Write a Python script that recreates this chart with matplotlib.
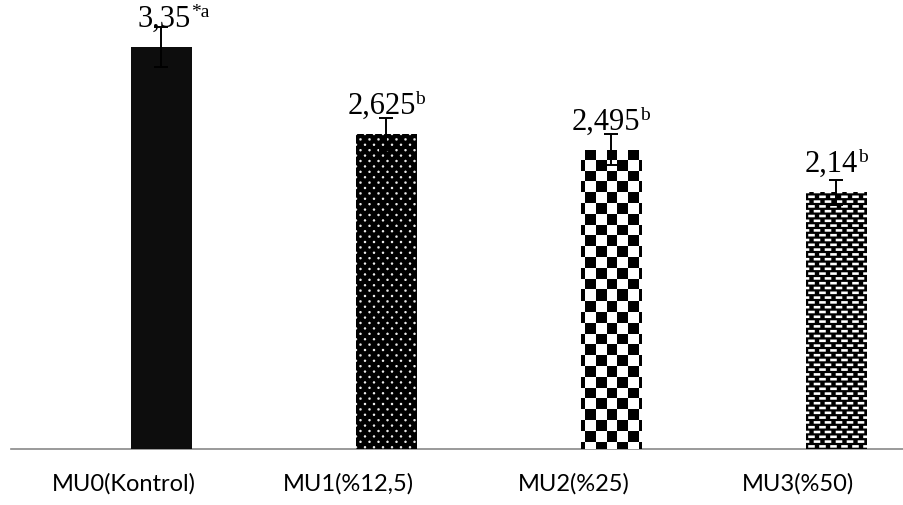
import numpy as np
import matplotlib
matplotlib.use("Agg")
import matplotlib.pyplot as plt

categories = ['MU0(Kontrol)', 'MU1(%12,5)', 'MU2(%25)', 'MU3(%50)']
means = [3.35, 2.625, 2.495, 2.14]
errors = [0.17, 0.13, 0.13, 0.105]
value_text = ['3,35', '2,625', '2,495', '2,14']
letters = ['*a', 'b', 'b', 'b']

W, H = 904, 505
fig = plt.figure(figsize=(W / 100, H / 100), dpi=100)
ax = fig.add_axes([11 / W, 56 / H, (W - 11) / W, 449 / H])
ax.set_xlim(-0.5, 3.47)
ax.set_ylim(0, 3.742)

x = np.arange(len(categories))
dark = '#0d0d0d'
bars = ax.bar(x + 0.033, means, width=0.27, align='edge', color=dark, zorder=2)
ax.errorbar(x + 0.033 + 0.135, means, yerr=errors, fmt='none', ecolor='black',
            elinewidth=1.4, capsize=5, capthick=1.4, zorder=4)


# --- fill patterns (pixel based, like the excel textures)
def smooth(d, r):
    return np.clip(r + 0.5 - d, 0, 1)


def dots(w, h):
    yy, xx = np.mgrid[0:h, 0:w] + 0.5
    px, py = 9.0, 10.8
    a = np.hypot((xx % px) - px / 2, (yy % py) - py / 2)
    b = np.hypot(((xx + px / 2) % px) - px / 2, ((yy + py / 2) % py) - py / 2)
    return np.maximum(smooth(a, 1.2), smooth(b, 1.2)) * 0.92


def checker(w, h):
    yy, xx = np.mgrid[0:h, 0:w] + 0.5
    s = 10.8
    return ((np.floor((xx + 6.8) / s) + np.floor(yy / s)) % 2 == 0).astype(float)


def dashes(w, h):
    yy, xx = np.mgrid[0:h, 0:w] + 0.5
    px, py = 11.0, 9.6
    def one(xs, ys):
        dx = np.abs((xs % px) - px / 2)
        dy = np.abs((ys % py) - py / 2)
        return np.clip(3.8 - dx, 0, 1) * np.clip(1.8 - dy, 0, 1)
    return np.maximum(one(xx, yy), one(xx + px / 2, yy + py / 2))


patterns = [None, dots, checker, dashes]
sx, sy = np.abs(np.diff(ax.transData.transform([(0, 0), (1, 1)]), axis=0)[0])
for bar, pat in zip(bars, patterns):
    if pat is None:
        continue
    x0, w, h = bar.get_x(), bar.get_width(), bar.get_height()
    img = pat(int(round(w * sx)), int(round(h * sy)))
    im = ax.imshow(img, cmap='gray', vmin=0, vmax=1, extent=(x0, x0 + w, 0, h),
                   origin='upper', interpolation='nearest', aspect='auto', zorder=3)
    im.set_clip_path(bar)

# value labels: main number + superscript letter, centred together
fig.canvas.draw()
rend = fig.canvas.get_renderer()
for i, bar in enumerate(bars):
    cx = bar.get_x() + bar.get_width() / 2
    top = bar.get_height()
    dx = 9 if i == 0 else 0
    main = ax.annotate(value_text[i], (cx, top), xytext=(0, 14.4), textcoords='offset points',
                       ha='left', va='baseline', fontsize=22, family='Liberation Serif',
                       annotation_clip=False, zorder=5)
    sup = ax.annotate(letters[i], (cx, top), xytext=(0, 21.5), textcoords='offset points',
                      ha='left', va='baseline', fontsize=14, family='Liberation Serif',
                      annotation_clip=False, zorder=5)
    wm = main.get_window_extent(rend).width * 72 / 100
    ws = sup.get_window_extent(rend).width * 72 / 100
    start = dx - (wm + ws) / 2
    main.set_position((start, 14.4))
    sup.set_position((start + wm, 21.5))

ax.set_xticks(x, categories)
ax.tick_params(axis='x', length=0, pad=17, labelsize=17)
for lab in ax.get_xticklabels():
    lab.set_family('Lato')
ax.set_yticks([])
for s in ['top', 'right', 'left']:
    ax.spines[s].set_visible(False)
ax.spines['bottom'].set_color('#898989')
ax.spines['bottom'].set_linewidth(1.2)
ax.spines['bottom'].set_zorder(1)

fig.savefig('out.png', dpi=100)
